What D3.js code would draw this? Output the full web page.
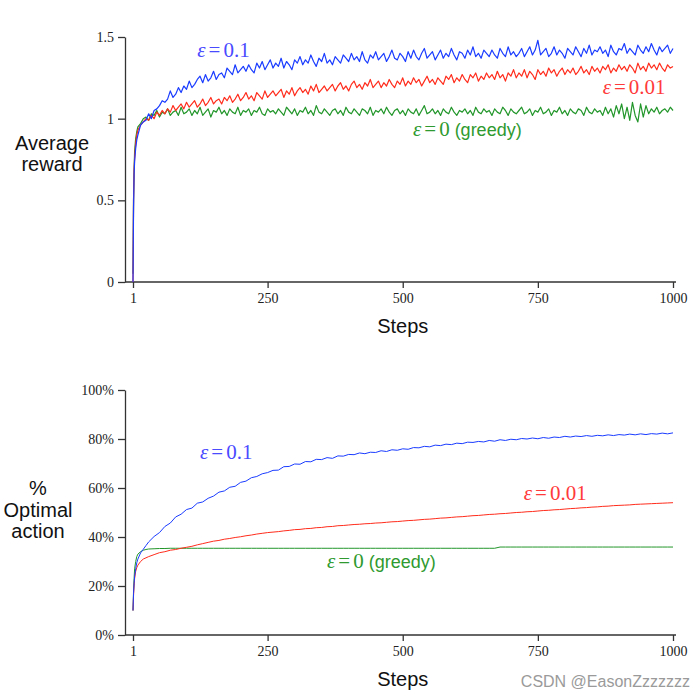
<!DOCTYPE html>
<html><head><meta charset="utf-8">
<script src="https://cdn.jsdelivr.net/npm/d3@7"></script>
<style>body{margin:0;background:#fff}svg{display:block}</style>
</head><body>
<svg id="c" width="697" height="698"></svg>
<script>
// ---------- data ----------
const rewardSteps = [1,2,3,4,6,8,10].concat(d3.range(15,1001,5));
const rewardEps01 = [0.0,0.45,0.66,0.74,0.82,0.87,0.9,
0.96,0.98,0.99,1.03,1.00,1.05,1.06,1.08,1.11,1.10,
1.12,1.17,1.13,1.15,1.19,1.16,1.20,1.18,1.23,1.19,
1.21,1.24,1.26,1.22,1.27,1.23,1.25,1.29,1.24,1.27,
1.28,1.25,1.31,1.29,1.27,1.33,1.28,1.30,1.32,1.29,
1.33,1.30,1.28,1.34,1.31,1.35,1.30,1.33,1.36,1.31,
1.34,1.32,1.37,1.31,1.35,1.33,1.30,1.36,1.34,1.38,
1.33,1.36,1.34,1.39,1.35,1.32,1.37,1.35,1.40,1.34,
1.36,1.33,1.38,1.36,1.34,1.39,1.37,1.35,1.40,1.36,
1.38,1.35,1.41,1.36,1.34,1.39,1.37,1.41,1.36,1.38,
1.40,1.35,1.38,1.42,1.37,1.36,1.40,1.38,1.35,1.41,
1.37,1.42,1.38,1.36,1.40,1.43,1.37,1.39,1.41,1.36,
1.39,1.42,1.37,1.40,1.38,1.43,1.39,1.36,1.41,1.40,
1.37,1.42,1.39,1.44,1.38,1.40,1.37,1.42,1.40,1.38,
1.42,1.39,1.37,1.43,1.40,1.38,1.44,1.39,1.41,1.38,
1.40,1.43,1.38,1.41,1.44,1.39,1.42,1.48,1.39,1.41,
1.43,1.38,1.40,1.44,1.39,1.42,1.40,1.37,1.43,1.41,
1.39,1.44,1.41,1.38,1.43,1.40,1.45,1.39,1.42,1.41,
1.44,1.40,1.42,1.38,1.45,1.41,1.39,1.43,1.42,1.46,
1.40,1.43,1.41,1.39,1.45,1.42,1.40,1.44,1.41,1.46,
1.42,1.39,1.44,1.41,1.43,1.45,1.40,1.43];
const rewardEps001 = [0.0,0.5,0.68,0.76,0.85,0.9,0.93,
0.96,0.98,1.00,0.99,1.02,1.00,1.04,1.02,1.05,1.03,
1.06,1.04,1.08,1.05,1.07,1.09,1.06,1.10,1.07,1.09,
1.11,1.07,1.09,1.12,1.08,1.10,1.13,1.09,1.11,1.12,
1.09,1.13,1.11,1.14,1.10,1.12,1.15,1.11,1.13,1.16,
1.12,1.14,1.11,1.16,1.14,1.12,1.17,1.13,1.15,1.17,
1.14,1.16,1.18,1.13,1.17,1.15,1.19,1.14,1.17,1.19,
1.16,1.18,1.15,1.20,1.17,1.21,1.16,1.18,1.20,1.17,
1.19,1.21,1.17,1.20,1.22,1.18,1.20,1.17,1.21,1.23,
1.19,1.21,1.18,1.22,1.20,1.24,1.19,1.21,1.23,1.19,
1.22,1.20,1.24,1.21,1.19,1.23,1.21,1.25,1.20,1.23,
1.21,1.25,1.22,1.24,1.20,1.23,1.26,1.22,1.24,1.21,
1.25,1.23,1.21,1.26,1.24,1.27,1.22,1.25,1.23,1.27,
1.24,1.22,1.27,1.25,1.28,1.23,1.26,1.24,1.28,1.25,
1.27,1.24,1.29,1.25,1.27,1.23,1.28,1.26,1.30,1.25,
1.28,1.26,1.30,1.25,1.29,1.27,1.24,1.30,1.27,1.29,
1.26,1.31,1.28,1.30,1.26,1.29,1.31,1.27,1.30,1.28,
1.31,1.27,1.29,1.32,1.28,1.30,1.27,1.32,1.29,1.31,
1.28,1.32,1.30,1.33,1.28,1.31,1.29,1.33,1.30,1.32,
1.29,1.33,1.31,1.28,1.34,1.30,1.32,1.29,1.34,1.31,
1.33,1.30,1.34,1.31,1.29,1.33,1.31,1.32];
const rewardGreedy = [0.05,0.5,0.68,0.8,0.88,0.92,0.95,
0.97,1.00,1.01,0.99,1.03,1.02,1.05,1.01,1.04,1.03,
1.06,1.02,1.04,1.05,1.02,1.07,1.03,1.04,1.06,1.02,
1.05,1.03,1.07,1.02,1.04,1.06,1.01,1.05,1.04,1.07,
1.03,1.05,1.02,1.06,1.04,1.03,1.07,1.02,1.05,1.04,
1.06,1.02,1.05,1.04,1.07,1.03,1.02,1.06,1.04,1.05,
1.03,1.06,1.04,1.02,1.07,1.05,1.03,1.06,1.02,1.05,
1.04,1.07,1.03,1.05,1.02,1.08,1.04,1.03,1.06,1.04,
1.02,1.05,1.06,1.03,1.05,1.02,1.07,1.04,1.03,1.06,
1.04,1.02,1.06,1.05,1.03,1.07,1.02,1.05,1.04,1.06,
1.03,1.07,1.04,1.02,1.05,1.06,1.03,1.05,1.02,1.06,
1.04,1.03,1.06,1.02,1.05,1.08,1.03,1.04,1.06,1.03,
1.05,1.02,1.06,1.04,1.03,1.07,1.04,1.02,1.05,1.04,
1.06,1.03,1.05,1.02,1.07,1.04,1.03,1.06,1.04,1.05,
1.02,1.06,1.04,1.03,1.07,1.05,1.02,1.06,1.04,1.03,
1.05,1.07,1.03,1.04,1.06,1.02,1.05,1.04,1.07,1.03,
1.04,1.06,1.02,1.05,1.04,1.07,1.03,1.05,1.02,1.06,
1.04,1.03,1.06,1.05,1.02,1.07,1.04,1.03,1.06,1.04,
1.05,1.02,1.07,1.03,1.06,1.01,1.08,1.03,1.09,1.00,
1.07,0.99,1.10,1.02,0.98,1.09,1.01,1.08,1.03,1.06,
1.04,1.07,1.03,1.05,1.06,1.04,1.07,1.05];

const optSteps = [1,2,3,4,6,8,10,15,20,25,30].concat(d3.range(40,1001,10));
const optEps01 = [10,17,21,24,27,29.5,31,33.5,35,36.5,38,
40.2,41.8,44.3,45.7,48.2,49.3,51.2,51.8,53.8,54.3,
55.8,56.7,58.3,58.8,60.3,60.7,62.3,62.8,64.2,64.7,
65.8,66.3,67.2,67.3,68.7,68.8,69.8,69.7,70.8,70.7,
71.7,71.6,72.4,72.1,73.1,73.0,73.7,73.6,74.3,74.0,
74.6,74.5,75.2,74.9,75.6,75.4,76.0,75.8,76.5,76.4,
77.0,76.8,77.5,77.3,77.9,77.7,78.3,78.1,78.7,78.6,
79.0,78.8,79.4,79.1,79.7,79.4,79.9,79.7,80.2,80.0,
80.4,80.1,80.6,80.3,80.8,80.6,81.1,80.8,81.2,81.0,
81.4,81.1,81.5,81.3,81.7,81.4,81.8,81.6,82.0,81.7,
82.1,81.8,82.2,82.0,82.4,82.1,82.5];
const optEps001 = [10,16,20,23,26,27.5,28.5,30,31,31.5,32,
32.8,33.6,34.0,34.6,34.9,35.4,35.8,36.2,36.8,37.3,
37.8,38.3,38.6,39.1,39.4,39.8,40.1,40.5,40.8,41.2,
41.5,41.8,42.0,42.2,42.5,42.7,43.0,43.1,43.4,43.5,
43.8,43.9,44.2,44.3,44.6,44.7,44.9,45.1,45.2,45.4,
45.5,45.7,45.8,46.0,46.2,46.3,46.5,46.7,46.8,47.0,
47.2,47.3,47.5,47.7,47.8,48.0,48.2,48.3,48.5,48.7,
48.8,49.0,49.2,49.3,49.5,49.6,49.8,50.0,50.1,50.3,
50.4,50.6,50.8,50.9,51.1,51.2,51.4,51.6,51.7,51.9,
52.0,52.2,52.3,52.5,52.6,52.8,52.9,53.0,53.1,53.3,
53.4,53.5,53.6,53.7,53.8,53.9,54.0];
const optGreedy = [10,18,23,27,30,32,33,34,34.6,34.9,35.1,
35.2,35.3,35.3,35.4,35.4,35.4,35.4,35.4,35.4,35.4,
35.4,35.4,35.4,35.4,35.4,35.4,35.4,35.4,35.4,35.4,
35.4,35.4,35.4,35.4,35.4,35.4,35.4,35.4,35.4,35.4,
35.4,35.4,35.4,35.4,35.4,35.4,35.4,35.4,35.4,35.4,
35.4,35.4,35.4,35.4,35.4,35.4,35.4,35.4,35.4,35.4,
35.4,35.4,35.4,35.4,35.4,35.4,35.4,35.4,35.4,35.4,
35.4,35.4,35.4,35.4,35.9,35.9,35.9,35.9,35.9,35.9,
35.9,35.9,35.9,35.9,35.9,35.9,35.9,35.9,35.9,35.9,
35.9,35.9,35.9,35.9,35.9,35.9,35.9,35.9,35.9,35.9,
35.9,35.9,35.9,35.9,35.9,35.9,35.9];

const stepTicks = [1,250,500,750,1000];
const rewardTicks = [0,0.5,1,1.5];
const rewardTickLabels = ["0","0.5","1","1.5"];
const optTicks = [0,20,40,60,80,100];
const optTickLabels = ["0%","20%","40%","60%","80%","100%"];
const seriesNames = ["0.1","0.01","0"];
const seriesColors = ["#1a3cff","#ff2c1c","#22962a"];
const labelColors = ["#4a4aff","#ff3a3a","#2f9a2f"];

// ---------- drawing ----------
const svg = d3.select("#c");
const SERIF = "'Liberation Serif','Times New Roman',serif";
const SANS = "'Liberation Sans',Arial,Helvetica,sans-serif";

const x = d3.scaleLinear().domain([1,1000]).range([133,673]);
const yR = d3.scaleLinear().domain([0,1.5]).range([282,37]);
const yO = d3.scaleLinear().domain([0,100]).range([635,390]);

function axes(y, ticks, labels, baseY){
  const gy = svg.append("g").attr("transform","translate(125,0)")
    .call(d3.axisLeft(y).tickValues(ticks).tickFormat((d,i)=>labels[i]).tickSize(7).tickSizeOuter(0).tickPadding(4));
  const gx = svg.append("g").attr("transform",`translate(0,${baseY})`)
    .call(d3.axisBottom(x).tickValues(stepTicks).tickFormat(d3.format("d")).tickSize(6).tickSizeOuter(0).tickPadding(5));
  gx.select(".domain").remove();
  svg.append("line").attr("x1",125).attr("x2",676).attr("y1",baseY).attr("y2",baseY)
    .attr("stroke","#333").attr("stroke-width",1.3);
  [gx,gy].forEach(g=>{
    g.selectAll("text").attr("font-family",SERIF).attr("font-size",14).attr("fill","#222");
    g.selectAll("line,path").attr("stroke","#333").attr("stroke-width",1.3);
  });
  svg.append("text").attr("x",x(500)).attr("y",baseY+51).attr("text-anchor","middle")
    .attr("font-family",SANS).attr("font-size",20).attr("fill","#111").text("Steps");
}
axes(yR, rewardTicks, rewardTickLabels, 282);
axes(yO, optTicks, optTickLabels, 635);

function ylabel(lines, cx, y0, dy){
  const t = svg.append("text").attr("text-anchor","middle").attr("font-family",SANS)
    .attr("font-size",20).attr("fill","#111");
  lines.forEach((l,i)=>t.append("tspan").attr("x",cx).attr("y",y0+i*dy).text(l));
}
ylabel(["Average","reward"],52,150,21);
ylabel(["%","Optimal","action"],38,495,21.5);

function drawLines(steps, series, y, order, w){
  order.forEach(i=>{
    const data = steps.map((s,k)=>[s,series[i][k]]);
    svg.append("path").datum(data)
      .attr("fill","none").attr("stroke",seriesColors[i]).attr("stroke-width",w)
      .attr("stroke-linejoin","round")
      .attr("d",d3.line().x(d=>x(d[0])).y(d=>y(d[1])));
  });
}
drawLines(rewardSteps,[rewardEps01,rewardEps001,rewardGreedy],yR,[2,1,0],1.2);
drawLines(optSteps,[optEps01,optEps001,optGreedy],yO,[2,1,0],1);

function epsLabel(i, px, py, greedy){
  const t = svg.append("text").attr("x",px).attr("y",py)
    .attr("font-family",SERIF).attr("font-size",21).attr("fill",labelColors[i]);
  t.append("tspan").attr("font-style","italic").text("ε");
  t.append("tspan").attr("dx",3).text("=");
  t.append("tspan").attr("dx",3).text(seriesNames[i]);
  if(greedy) t.append("tspan").attr("dx",5).attr("font-family",SANS).attr("font-size",18).text("(greedy)");
}
epsLabel(0, x(120), yR(1.38));
epsLabel(1, x(870), yR(1.15));
epsLabel(2, x(519), yR(0.894), true);
epsLabel(0, x(125), yO(71.8));
epsLabel(1, x(724), yO(55.1));
epsLabel(2, x(360), yO(27.3), true);

svg.append("text").attr("x",690).attr("y",687).attr("text-anchor","end")
  .attr("font-family",SANS).attr("font-size",16).attr("fill","#9a9a9a").text("CSDN @EasonZzzzzzz");
</script>
</body></html>
